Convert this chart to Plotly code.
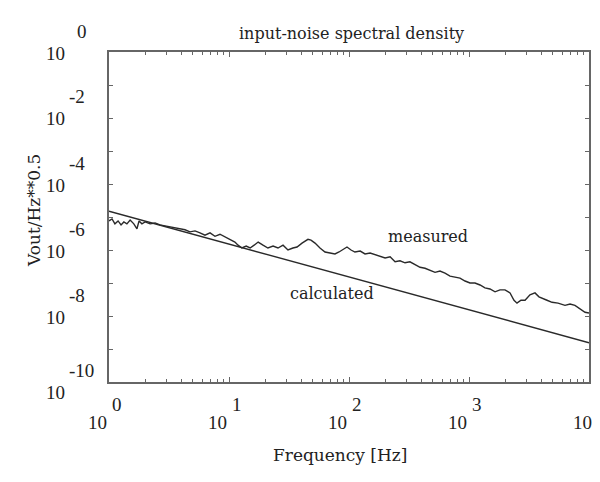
import plotly.graph_objects as go

# ---- data ----
calc_freq = [1.0, 10000.0]
calc_density = [1.5e-5, 1.55e-9]

meas_freq = [1.0, 1.06, 1.12, 1.19, 1.26, 1.33, 1.41, 1.50, 1.61, 1.71, 1.78, 1.88,
             2.0, 2.2, 2.42, 2.66, 2.93, 3.22, 3.55, 3.91, 4.3, 4.73, 5.21, 5.73,
             6.31, 6.95, 7.64, 8.41, 9.27, 10.2, 11.2, 11.9, 12.8, 13.9, 15.0, 16.2,
             17.5, 19.2, 21.1, 23.3, 25.6, 28.2, 31.0, 34.1, 36.9, 40.6, 45.5, 48.2,
             52.1, 57.3, 63.1, 69.5, 76.4, 82.6, 87.5, 96.2, 104, 112, 124, 136,
             150, 165, 181, 200, 220, 242, 266, 293, 322, 355, 391, 430,
             473, 521, 573, 631, 695, 764, 841, 927, 1019, 1122, 1236, 1358,
             1496, 1648, 1812, 1995, 2198, 2371, 2512, 2710, 2931, 3221, 3548, 3828,
             4055, 4467, 4920, 5521, 6310, 6950, 7638, 8414, 9268, 10000]
meas_density = [7.6e-6, 8.7e-6, 6.2e-6, 7.6e-6, 5.75e-6, 7.1e-6, 6.2e-6, 8.1e-6, 6.2e-6, 4.4e-6, 7.6e-6, 6.2e-6,
                7.1e-6, 6.2e-6, 6.6e-6, 5.75e-6, 5.4e-6, 5.0e-6, 4.7e-6, 4.4e-6, 4.1e-6, 3.55e-6, 3.8e-6, 3.3e-6,
                2.8e-6, 3.3e-6, 2.6e-6, 3.0e-6, 2.45e-6, 2.0e-6, 1.74e-6, 1.4e-6, 1.15e-6, 1.32e-6, 1.15e-6, 1.4e-6,
                1.74e-6, 1.4e-6, 1.15e-6, 1.32e-6, 1.15e-6, 1.4e-6, 1.0e-6, 1.15e-6, 1.23e-6, 1.62e-6, 2.1e-6, 2.0e-6,
                1.62e-6, 1.15e-6, 8.7e-7, 8.1e-7, 7.6e-7, 8.7e-7, 1.0e-6, 1.23e-6, 1.0e-6, 8.7e-7, 9.3e-7, 7.6e-7,
                8.1e-7, 7.1e-7, 6.6e-7, 5.75e-7, 6.2e-7, 4.4e-7, 4.7e-7, 4.1e-7, 4.4e-7, 3.55e-7, 3.0e-7, 2.8e-7,
                2.45e-7, 2.1e-7, 2.3e-7, 2.0e-7, 1.62e-7, 1.5e-7, 1.4e-7, 1.15e-7, 1.0e-7, 1.0e-7, 8.7e-8, 7.1e-8,
                6.6e-8, 5.4e-8, 6.2e-8, 6.2e-8, 5.0e-8, 3.0e-8, 2.45e-8, 3.0e-8, 3.0e-8, 4.4e-8, 5.0e-8, 3.8e-8,
                3.55e-8, 3.0e-8, 2.6e-8, 2.45e-8, 2.1e-8, 2.3e-8, 2.1e-8, 1.62e-8, 1.3e-8, 1.23e-8]

x_exponents = [0, 1, 2, 3, 4]
y_exponents = [0, -2, -4, -6, -8, -10]
y_decades = list(range(-10, 1))

NUMFONT = "Liberation Serif"
TXTFONT = "DejaVu Serif"
TXTCOL = "#222222"
LINE = "#2a2a2a"
AXIS = "#666666"

fig = go.Figure()
fig.add_trace(go.Scatter(x=meas_freq, y=meas_density, mode="lines",
                         line=dict(color=LINE, width=1.4), name="measured"))
fig.add_trace(go.Scatter(x=calc_freq, y=calc_density, mode="lines",
                         line=dict(color=LINE, width=1.4), name="calculated"))

x_minor = [m * 10 ** e for e in range(0, 4) for m in range(2, 10)]

fig.update_layout(
    width=592, height=474,
    margin=dict(l=101, r=11, t=44, b=100, autoexpand=False),
    paper_bgcolor="white", plot_bgcolor="white",
    showlegend=False,
    font=dict(family=TXTFONT, size=16, color=TXTCOL),
    xaxis=dict(type="log", range=[0, 4], showgrid=False, zeroline=False, automargin=False,
               showline=True, linecolor=AXIS, linewidth=2, mirror="ticks",
               ticks="inside", ticklen=5, tickcolor=AXIS, tickwidth=1,
               tickvals=[10 ** e for e in x_exponents], showticklabels=False,
               minor=dict(tickvals=x_minor, ticks="inside", ticklen=3, tickcolor=AXIS, showgrid=False)),
    yaxis=dict(type="log", range=[-10, 0], showgrid=False, zeroline=False, automargin=False,
               showline=True, linecolor=AXIS, linewidth=2, mirror="ticks",
               ticks="inside", ticklen=4, tickcolor=AXIS, tickwidth=1,
               tickvals=[10.0 ** e for e in y_decades], showticklabels=False),
)

ann = []
for e in x_exponents:
    xp = e / 4
    dx = 5 if e == 4 else 0
    ann.append(dict(text="10", xref="paper", yref="paper", x=xp, y=0, xanchor="right",
                    yanchor="middle", yshift=-40, xshift=dx, showarrow=False,
                    font=dict(family=NUMFONT, size=19, color=TXTCOL)))
    ann.append(dict(text=str(e), xref="paper", yref="paper", x=xp, y=0, xanchor="left",
                    yanchor="middle", yshift=-22, xshift=(1 + dx) if e != 4 else 2, showarrow=False,
                    font=dict(family=NUMFONT, size=19, color=TXTCOL)))
for e in y_exponents:
    yp = (e + 10) / 10
    dy = -9 if e == -10 else 0
    ann.append(dict(text="10", xref="paper", yref="paper", x=0, y=yp, xanchor="right",
                    yanchor="middle", xshift=-42, yshift=-1 + dy, showarrow=False,
                    font=dict(family=NUMFONT, size=19, color=TXTCOL)))
    ann.append(dict(text=str(e), xref="paper", yref="paper", x=0, y=yp, xanchor="left",
                    yanchor="middle", xshift=-42 if e != 0 else -34, yshift=21 + dy, showarrow=False,
                    font=dict(family=NUMFONT, size=19, color=TXTCOL)))

# titles and curve labels (paper coordinates relative to the plot area)
ann.append(dict(text="input-noise spectral density", xref="paper", yref="paper",
                x=(351 - 109) / 480, y=(382 - 22) / 330, showarrow=False,
                font=dict(family=TXTFONT, size=16, color=TXTCOL)))
ann.append(dict(text="Frequency [Hz]", xref="paper", yref="paper",
                x=(340 - 109) / 480, y=(382 - 467) / 330, showarrow=False,
                font=dict(family=TXTFONT, size=17, color=TXTCOL)))
ann.append(dict(text="Vout/Hz**0.5", xref="paper", yref="paper", textangle=-90,
                x=(22 - 109) / 480, y=(382 - 211) / 330, showarrow=False,
                font=dict(family=TXTFONT, size=17, color=TXTCOL)))
ann.append(dict(text="measured", xref="paper", yref="paper", x=(428 - 109) / 480,
                y=(382 - 237) / 330, showarrow=False, font=dict(family=TXTFONT, size=16, color=TXTCOL)))
ann.append(dict(text="calculated", xref="paper", yref="paper", x=(332 - 109) / 480,
                y=(382 - 305) / 330, showarrow=False, font=dict(family=TXTFONT, size=16, color=TXTCOL)))
fig.update_layout(annotations=ann)

fig.write_html("out.html")
